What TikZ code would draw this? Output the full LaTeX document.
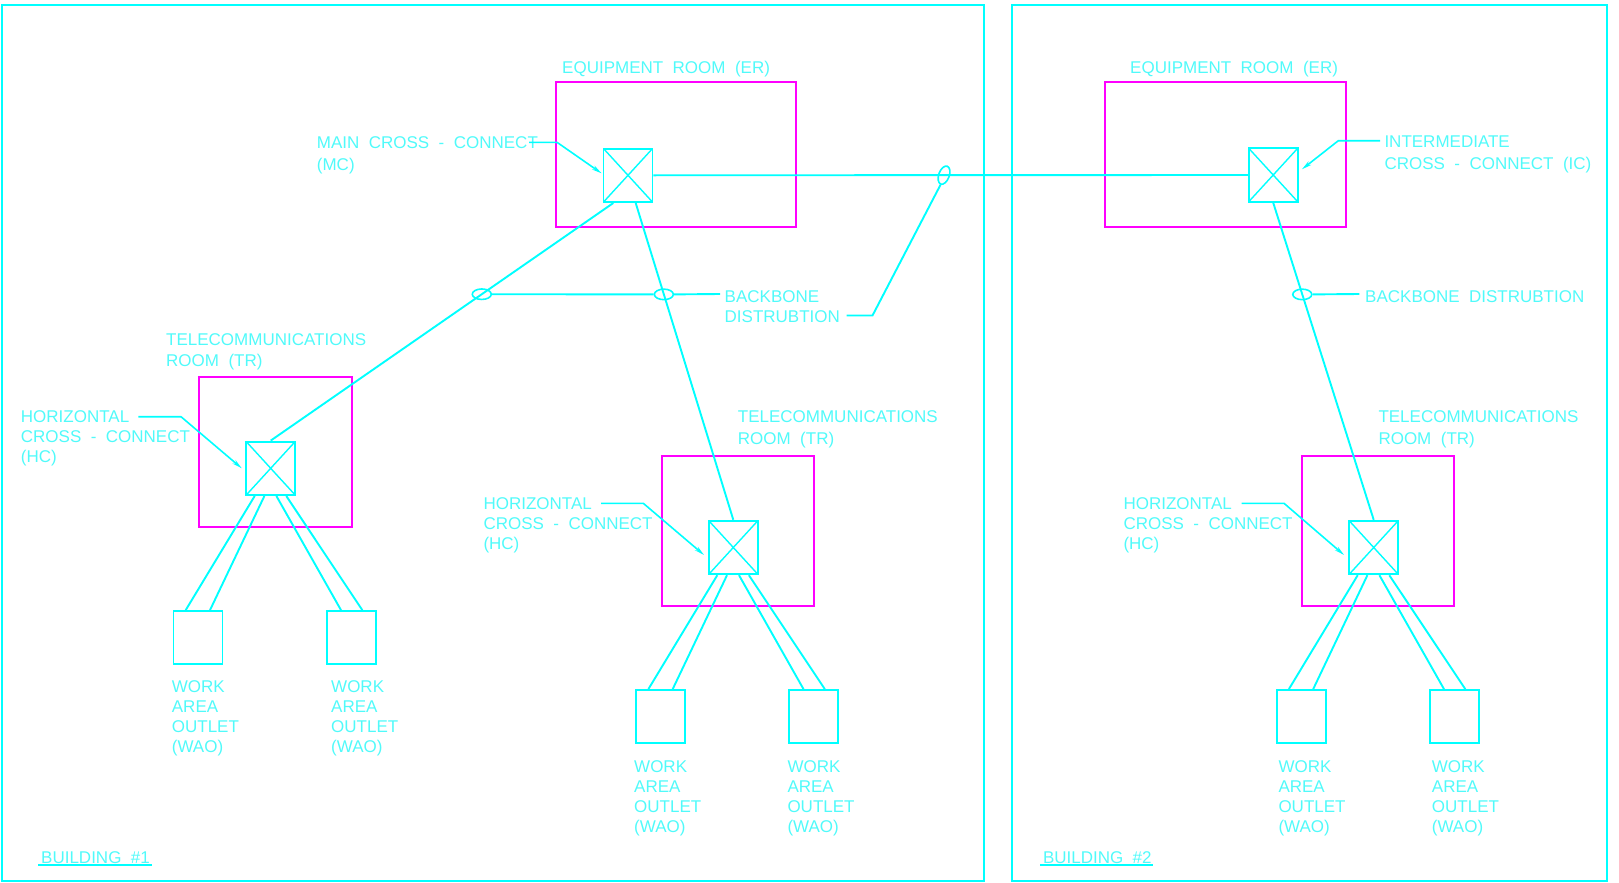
\documentclass[tikz,border=0pt]{standalone}
\usepackage{fontspec}
\setmainfont{Liberation Sans}[WordSpace=2]
\usetikzlibrary{shapes.geometric,arrows.meta}
\definecolor{cad}{RGB}{0,255,255}
\definecolor{cadtxt}{RGB}{80,250,250}
\definecolor{room}{RGB}{255,0,255}
\begin{document}
\begin{tikzpicture}[x=1pt,y=-1pt,
  ln/.style={draw=cad, line width=1.9pt},
  bldg/.style={rectangle, draw=cad, line width=2pt, inner sep=0},
  roomb/.style={rectangle, draw=room, line width=1.9pt, inner sep=0},
  xc/.style={rectangle, draw=cad, line width=1.9pt, minimum width=49pt, minimum height=53.5pt, inner sep=0,
    path picture={\draw[cad,line width=1.4pt]
      (path picture bounding box.north west) -- (path picture bounding box.south east)
      (path picture bounding box.north east) -- (path picture bounding box.south west);}},
  wao/.style={rectangle, draw=cad, line width=1.9pt, minimum width=49pt, minimum height=53.3pt, inner sep=0},
  sheath/.style={ellipse, draw=cad, line width=1.6pt, minimum width=19pt, minimum height=10.5pt, inner sep=0},
  lbl/.style={anchor=north west, inner sep=0, align=left, text=cadtxt, font=\fontsize{17}{20}\selectfont},
  wide/.style={font=\fontsize{17}{22.5}\selectfont},
  mid/.style={font=\fontsize{17}{21.5}\selectfont},
  lead/.style={draw=cad, line width=1.6pt, -{Stealth[length=10pt,width=4.5pt]}}
]
\useasboundingbox (0,0) rectangle (1619,883);

% buildings
\node[bldg, minimum width=982pt, minimum height=875.7pt] (bldg1) at (492.7,442.85) {};
\node[bldg, minimum width=594.7pt, minimum height=875.7pt] (bldg2) at (1309.35,442.85) {};

% rooms
\node[roomb, minimum width=240.3pt, minimum height=145pt] (er1) at (675.8,154.2) {};
\node[roomb, minimum width=240.4pt, minimum height=145pt] (er2) at (1225.5,154.2) {};
\node[roomb, minimum width=152.4pt, minimum height=150pt] (tr1) at (275.5,451.7) {};
\node[roomb, minimum width=152.4pt, minimum height=150pt] (tr2) at (737.8,531) {};
\node[roomb, minimum width=152.4pt, minimum height=150pt] (tr3) at (1378,531) {};

% cross-connects
\node[xc] (mc) at (628,175.3) {};
\node[xc] (ic) at (1273.2,175) {};
\node[xc] (hc1) at (270.7,468.3) {};
\node[xc] (hc2) at (733.3,547.5) {};
\node[xc] (hc3) at (1373.7,547.5) {};

% work area outlets
\node[wao] (w1a) at (198,637.7) {};
\node[wao] (w1b) at (351.3,637.7) {};
\node[wao] (w2a) at (660.7,716.7) {};
\node[wao] (w2b) at (813.8,716.7) {};
\node[wao] (w3a) at (1301.2,716.7) {};
\node[wao] (w3b) at (1454.3,716.7) {};

% backbone cabling
\draw[ln] ([xshift=-14.7pt]mc.south) -- node[sheath, pos=0.3839] (e1) {} (hc1.north);
\draw[ln] ([xshift=7.7pt]mc.south) -- node[sheath, pos=0.2885] (e2) {} (hc2.north);
\draw[ln] (mc.east) -- node[sheath, pos=0.4889, rotate=70] (e3) {} (ic.west);
\draw[ln] (ic.south) -- node[sheath, pos=0.2892] (e4) {} (hc3.north);

% horizontal cabling
\foreach \h/\a/\b in {hc1/w1a/w1b, hc2/w2a/w2b, hc3/w3a/w3b}{
  \draw[ln] ([xshift=-16pt]\h.south) -- ([xshift=-12.3pt]\a.north);
  \draw[ln] ([xshift=-6.3pt]\h.south) -- ([xshift=12pt]\a.north);
  \draw[ln] ([xshift=5.7pt]\h.south) -- ([xshift=-10.3pt]\b.north);
  \draw[ln] ([xshift=15.6pt]\h.south) -- ([xshift=11pt]\b.north);
}

% labels
\node[lbl] (er1t) at (562,60.7) {EQUIPMENT ROOM (ER)};
\node[lbl] (er2t) at (1130,61) {EQUIPMENT ROOM (ER)};
\node[lbl, wide] (mct) at (316.7,136) {MAIN CROSS - CONNECT\\(MC)};
\node[lbl, wide] (ict) at (1384.3,135.6) {INTERMEDIATE\\CROSS - CONNECT (IC)};
\node[lbl, mid] (tr1t) at (166,333) {TELECOMMUNICATIONS\\ROOM (TR)};
\node[lbl, mid] (tr2t) at (737.7,410.6) {TELECOMMUNICATIONS\\ROOM (TR)};
\node[lbl, mid] (tr3t) at (1378.3,410.6) {TELECOMMUNICATIONS\\ROOM (TR)};
\node[lbl] (hc1t) at (20.7,410.6) {HORIZONTAL\\CROSS - CONNECT\\(HC)};
\node[lbl] (hc2t) at (483.3,497.2) {HORIZONTAL\\CROSS - CONNECT\\(HC)};
\node[lbl] (hc3t) at (1123.3,497.2) {HORIZONTAL\\CROSS - CONNECT\\(HC)};
\node[lbl] (bb1t) at (724.5,290) {BACKBONE\\DISTRUBTION};
\node[lbl] (bb2t) at (1365,290) {BACKBONE DISTRUBTION};
\node[lbl] (w1at) at (171.7,680.6) {WORK\\AREA\\OUTLET\\(WAO)};
\node[lbl] (w1bt) at (331,680.6) {WORK\\AREA\\OUTLET\\(WAO)};
\node[lbl] (w2at) at (634,760.6) {WORK\\AREA\\OUTLET\\(WAO)};
\node[lbl] (w2bt) at (787.3,760.6) {WORK\\AREA\\OUTLET\\(WAO)};
\node[lbl] (w3at) at (1278.3,760.6) {WORK\\AREA\\OUTLET\\(WAO)};
\node[lbl] (w3bt) at (1431.7,760.6) {WORK\\AREA\\OUTLET\\(WAO)};
\node[lbl] (b1t) at (41,851) {BUILDING \#1};
\node[lbl] (b2t) at (1042.8,851) {BUILDING \#2};
\draw[ln, line width=1.6pt] ([xshift=-2.7pt,yshift=-1.8pt]b1t.base west) -- ([xshift=1.6pt,yshift=-1.8pt]b1t.base east);
\draw[ln, line width=1.6pt] ([xshift=-2.7pt,yshift=-1.8pt]b2t.base west) -- ([xshift=1.6pt,yshift=-1.8pt]b2t.base east);

% leaders
\coordinate (mcl0) at (529,142.3);
\coordinate (mcl1) at (557,142.3);
\draw[lead] (mcl0) -- (mcl1) -- ([xshift=-1pt,yshift=2pt]mc.west);
\coordinate (icl0) at (1380,140.7);
\coordinate (icl1) at (1338.3,140.7);
\draw[lead] (icl0) -- (icl1) -- ([xshift=3.3pt,yshift=5.7pt]ic.east);
\coordinate (hc1l0) at (138.3,416.7);
\coordinate (hc1l1) at (181,416.7);
\draw[lead] (hc1l0) -- (hc1l1) -- ([xshift=-3.5pt]hc1.west);
\coordinate (hc2l0) at (601,503.3);
\coordinate (hc2l1) at (643.3,503.3);
\draw[lead] (hc2l0) -- (hc2l1) -- ([xshift=-3.8pt,yshift=-7.5pt]hc2.west);
\coordinate (hc3l0) at (1241.7,503.3);
\coordinate (hc3l1) at (1284,503.3);
\draw[lead] (hc3l0) -- (hc3l1) -- ([xshift=-4.2pt,yshift=-7.5pt]hc3.west);

% backbone distribution leaders
\draw[ln] (e1.east) -- (e2.west);
\coordinate (bb1end) at (720,294);
\draw[ln] (e2.east) -- (bb1end);
\coordinate (bbl0) at (846.7,315.5);
\coordinate (bbl1) at (872.5,315.5);
\draw[ln] (bbl0) -- (bbl1) -- (e3.west);
\coordinate (bb2end) at (1359.3,294);
\draw[ln] (e4.east) -- (bb2end);
\end{tikzpicture}
\end{document}
